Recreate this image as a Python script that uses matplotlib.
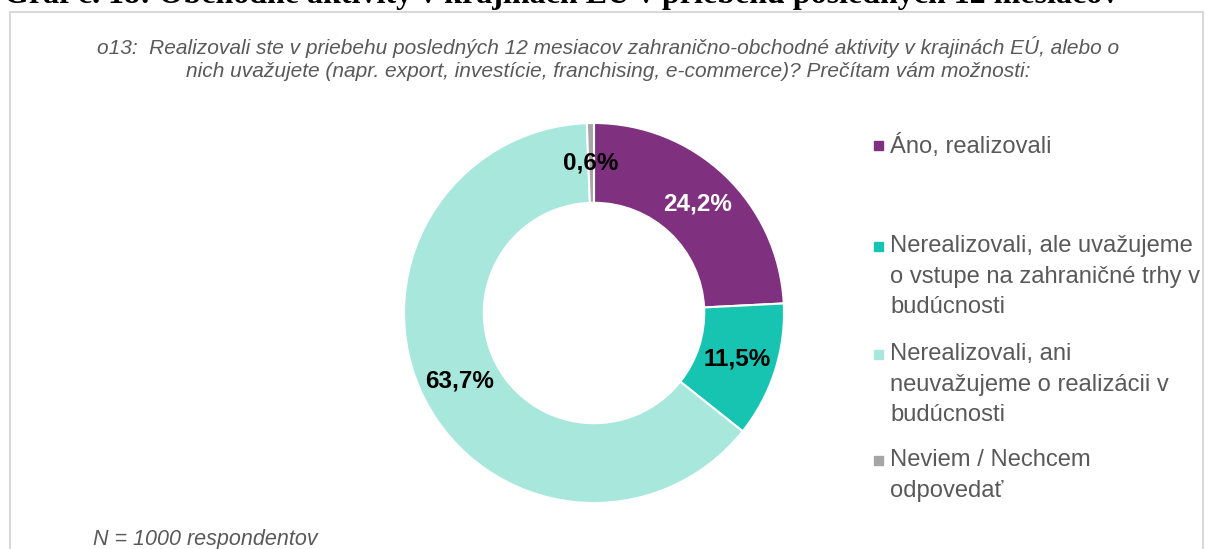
import matplotlib.pyplot as plt
from matplotlib.patches import Rectangle

plt.rcParams['font.family'] = ['Liberation Sans', 'DejaVu Sans']

# data
categories = ['Áno, realizovali',
              'Nerealizovali, ale uvažujeme\no vstupe na zahraničné trhy v\nbudúcnosti',
              'Nerealizovali, ani\nneuvažujeme o realizácii v\nbudúcnosti',
              'Neviem / Nechcem\nodpovedať']
shares = [24.2, 11.5, 63.7, 0.6]
colors = ['#7f3180', '#17c4b1', '#a8e7dc', '#a5a5a5']
label_colors = ['white', 'black', 'black', 'black']

title = 'Graf č. 18: Obchodné aktivity v krajinách EÚ v priebehu posledných 12 mesiacov'
subtitle = ('o13:  Realizovali ste v priebehu posledných 12 mesiacov zahranično-obchodné aktivity v krajinách EÚ, alebo o\n'
            'nich uvažujete (napr. export, investície, franchising, e-commerce)? Prečítam vám možnosti:')
note = 'N = 1000 respondentov'

W, H = 1209, 549
fig = plt.figure(figsize=(W / 100, H / 100), dpi=100)

# chart frame
fig.patches.append(Rectangle((10 / W, -0.1), 1193 / W, (H - 12) / H + 0.1,
                             transform=fig.transFigure, fill=False,
                             edgecolor='#d9d9d9', linewidth=1.5))

# cut-off heading on top
fig.text(4 / W, 1 + 7 / H, title, family='Liberation Serif', weight='bold',
         fontsize=23, ha='left', va='center')

fig.text(608 / W, 1 - 58.5 / H, subtitle, ha='center', va='center',
         style='italic', fontsize=15, color='#595959', linespacing=1.3)

fig.text(93 / W, 1 - 540 / H, note, ha='left', va='center',
         style='italic', fontsize=15.5, color='#595959')

# donut
cx, cy, r = 594, 313, 190
ax = fig.add_axes([(cx - r) / W, (H - cy - r) / H, 2 * r / W, 2 * r / H])
wedges, texts, autotexts = ax.pie(
    shares, colors=colors, startangle=90, counterclock=False, radius=1,
    wedgeprops=dict(width=0.42, edgecolor='white', linewidth=1.5),
    autopct=lambda p: ('%.1f%%' % p).replace('.', ','), pctdistance=0.79)
for t, c in zip(autotexts, label_colors):
    t.set_color(c)
    t.set_fontsize(17.5)
    t.set_fontweight('bold')
ax.set_xlim(-1.0, 1.0)
ax.set_ylim(-1.0, 1.0)
ax.axis('off')

# legend
legend_y = [145, 246, 354, 460]
for lab, col, y in zip(categories, colors, legend_y):
    fig.patches.append(Rectangle((874 / W, 1 - (y + 5) / H), 9 / W, 9 / H,
                                 transform=fig.transFigure, color=col))
    fig.text(890 / W, 1 - (y - 11) / H, lab, ha='left', va='top',
             fontsize=17.1, color='#595959', linespacing=1.5)

fig.savefig('out.png', dpi=100)
